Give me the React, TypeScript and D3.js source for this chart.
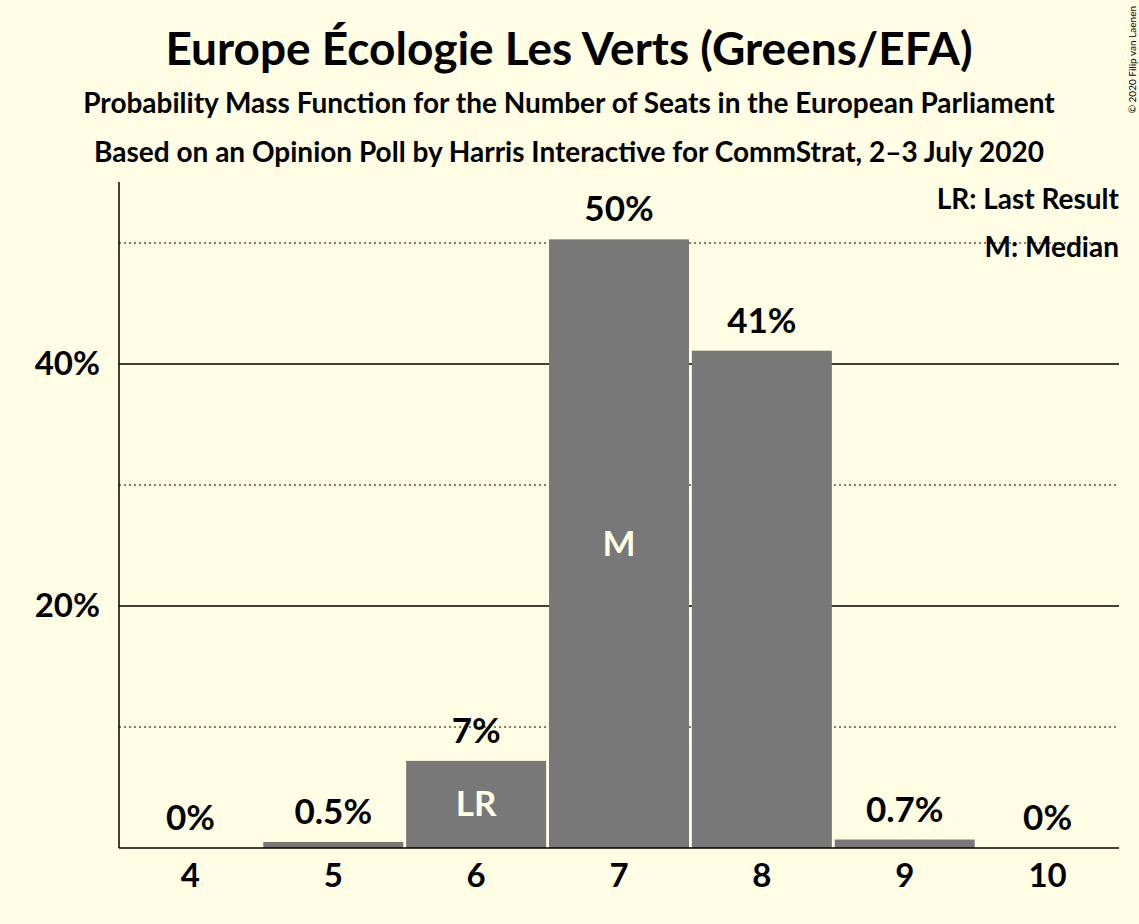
import React from "react";
import * as d3 from "d3";

const seats = ["4", "5", "6", "7", "8", "9", "10"];
const probs = [0, 0.5, 7.2, 50.3, 41.1, 0.7, 0];
const barLabels = ["0%", "0.5%", "7%", "50%", "41%", "0.7%", "0%"];
const inBar = ["", "", "LR", "M", "", "", ""];
const solidTicks = [20, 40];
const dottedTicks = [10, 30, 50];

export default function App() {
  const W = 1139, H = 924;
  const x = d3.scaleBand().domain(seats).range([119, 1119]).paddingInner(0.02).paddingOuter(0.01);
  const y = d3.scaleLinear().domain([0, 20]).range([848, 606]);
  const bg = "#FFFDE4";
  const font = "Lato, 'Open Sans', sans-serif";
  return (
    <svg width={W} height={H} style={{ position: "absolute", left: 0, top: 0, background: bg }} fontFamily={font} fontWeight="bold">
      <rect width={W} height={H} fill={bg} />
      {dottedTicks.map(t => (
        <line key={"d" + t} x1={119} x2={1119} y1={y(t)} y2={y(t)} stroke="#000" strokeDasharray="2,3" strokeWidth={1} />
      ))}
      {solidTicks.map(t => (
        <g key={"s" + t}>
          <line x1={119} x2={1119} y1={y(t)} y2={y(t)} stroke="#000" strokeWidth={1.5} />
          <text x={100} y={y(t) + 11} textAnchor="end" fontSize={33}>{t}%</text>
        </g>
      ))}
      {seats.map((s, i) => {
        const bx = x(s)!, bw = x.bandwidth();
        return (
          <g key={s}>
            <rect x={bx} y={y(probs[i])} width={bw} height={848 - y(probs[i])} fill="#787878" />
            <text x={bx + bw / 2} y={y(probs[i]) - 18} textAnchor="middle" fontSize={35}>{barLabels[i]}</text>
            {inBar[i] && (
              <text x={bx + bw / 2} y={(y(probs[i]) + 848) / 2 + 12} textAnchor="middle" fontSize={35} fill={bg}>{inBar[i]}</text>
            )}
            <text x={bx + bw / 2} y={887} textAnchor="middle" fontSize={33}>{s}</text>
          </g>
        );
      })}
      <line x1={119} x2={119} y1={182} y2={848} stroke="#000" strokeWidth={1.5} />
      <line x1={119} x2={1119} y1={848} y2={848} stroke="#000" strokeWidth={1.5} />
      <text x={569} y={65} textAnchor="middle" fontSize={46}>Europe Écologie Les Verts (Greens/EFA)</text>
      <text x={569} y={113} textAnchor="middle" fontSize={28}>Probability Mass Function for the Number of Seats in the European Parliament</text>
      <text x={569} y={162} textAnchor="middle" fontSize={28}>Based on an Opinion Poll by Harris Interactive for CommStrat, 2–3 July 2020</text>
      <text x={1119} y={209} textAnchor="end" fontSize={28}>LR: Last Result</text>
      <text x={1119} y={257} textAnchor="end" fontSize={28}>M: Median</text>
      <text transform="translate(1136,6) rotate(-90)" textAnchor="end" fontSize={10} fontWeight="normal">© 2020 Filip van Laenen</text>
    </svg>
  );
}
